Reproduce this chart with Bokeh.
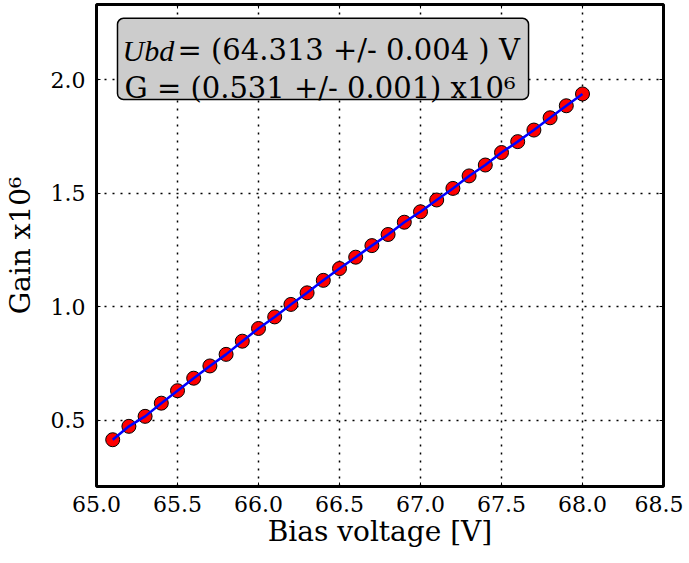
from bokeh.plotting import figure
from bokeh.models import (Range1d, LinearAxis, SingleIntervalTicker, NumeralTickFormatter,
                          CustomJSTickFormatter, BoxAnnotation, Label, Grid)
from bokeh.embed import file_html
from bokeh.resources import INLINE

# ---- data ----
bias_voltage = [65.1, 65.2, 65.3, 65.4, 65.5, 65.6, 65.7, 65.8, 65.9, 66.0,
                66.1, 66.2, 66.3, 66.4, 66.5, 66.6, 66.7, 66.8, 66.9, 67.0,
                67.1, 67.2, 67.3, 67.4, 67.5, 67.6, 67.7, 67.8, 67.9, 68.0]
gain = [0.415, 0.474, 0.518, 0.576, 0.631, 0.686, 0.740, 0.791, 0.849, 0.905,
        0.956, 1.011, 1.062, 1.117, 1.169, 1.219, 1.270, 1.319, 1.373, 1.419,
        1.471, 1.522, 1.577, 1.625, 1.680, 1.728, 1.779, 1.833, 1.886, 1.938]
fit_line1_label = "Ubd"
fit_line1_rest = "= (64.313 +/- 0.004 ) V"
fit_line2 = "G = (0.531 +/- 0.001) x10\u2076"
x_label = "Bias voltage [V]"
y_label = "Gain x10\u2076"

FONT = "DejaVu Serif"

p = figure(frame_width=567, frame_height=482, output_backend="svg", toolbar_location=None,
           x_range=Range1d(65.0, 68.5), y_range=Range1d(0.209, 2.332),
           min_border_left=86, min_border_right=20, min_border_top=1, min_border_bottom=64,
           x_axis_type=None, y_axis_type=None)
p.title = None
p.background_fill_color = "white"
p.border_fill_color = "white"
p.outline_line_color = "black"
p.outline_line_width = 3

xt = SingleIntervalTicker(interval=0.5)
yt = SingleIntervalTicker(interval=0.5)
fmt = NumeralTickFormatter(format="0.0")
blank = CustomJSTickFormatter(code="return '';")


def style_axis(ax):
    ax.axis_line_color = None
    ax.major_tick_in = 4
    ax.major_tick_out = 0
    ax.major_tick_line_color = "black"
    ax.major_tick_line_width = 1
    ax.minor_tick_line_color = None
    ax.major_label_text_font = FONT
    ax.major_label_text_font_size = "22px"
    ax.major_label_text_color = "black"


xb = LinearAxis(ticker=xt, formatter=fmt, axis_label=x_label)
style_axis(xb)
xb.major_label_standoff = 5
xb.axis_label_text_font = FONT
xb.axis_label_text_font_size = "28px"
xb.axis_label_text_font_style = "normal"
xb.axis_label_text_color = "black"
xb.axis_label_standoff = 0
p.add_layout(xb, "below")

yl = LinearAxis(ticker=yt, formatter=fmt, axis_label=y_label)
style_axis(yl)
yl.major_label_standoff = 7
yl.axis_label_text_font = FONT
yl.axis_label_text_font_size = "28px"
yl.axis_label_text_font_style = "normal"
yl.axis_label_text_color = "black"
yl.axis_label_standoff = 11
p.add_layout(yl, "left")

xt_top = LinearAxis(ticker=xt, formatter=blank)
style_axis(xt_top)
xt_top.major_label_standoff = 0
p.add_layout(xt_top, "above")

yr = LinearAxis(ticker=yt, formatter=blank)
style_axis(yr)
yr.major_label_standoff = 0
p.add_layout(yr, "right")

gx = Grid(dimension=0, ticker=xt)
gy = Grid(dimension=1, ticker=yt)
for g in (gx, gy):
    g.grid_line_color = "black"
    g.grid_line_dash = "2 6"
    g.grid_line_width = 1.5
    p.add_layout(g)

p.scatter(bias_voltage, gain, size=14, fill_color="red", line_color="black", line_width=1)
p.line(bias_voltage, gain, line_color="blue", line_width=2.5)

# fit result box
box = BoxAnnotation(left=65.1296, right=67.667, top=2.271, bottom=1.914,
                    fill_color="#cccccc", fill_alpha=1.0,
                    line_color="black", line_width=1.5, line_alpha=1.0,
                    border_radius=6)
p.add_layout(box)

lab1a = Label(x=65.1605, y=2.130, text=fit_line1_label, text_font="Liberation Serif",
              text_font_style="italic", text_font_size="30px",
              text_baseline="alphabetic", text_color="black")
lab1b = Label(x=65.5, y=2.130, text=fit_line1_rest, text_font=FONT,
              text_font_size="29px", text_baseline="alphabetic", text_color="black")
lab2 = Label(x=65.173, y=1.9625, text=fit_line2, text_font=FONT,
             text_font_size="29px", text_baseline="alphabetic", text_color="black")
for lb in (lab1a, lab1b, lab2):
    p.add_layout(lb)

open("out.html", "w").write(file_html(p, INLINE))
